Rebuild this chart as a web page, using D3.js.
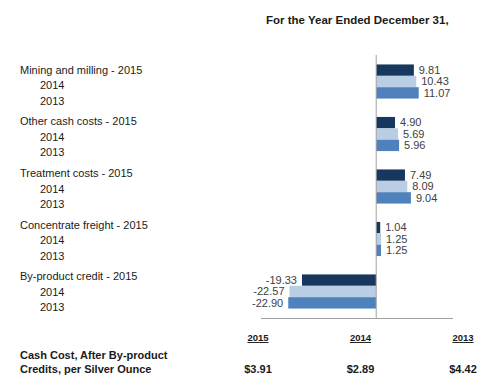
<!DOCTYPE html>
<html>
<head>
<meta charset="utf-8">
<script src="https://cdn.jsdelivr.net/npm/d3@7"></script>
<style>
  body { margin: 0; background: #fff; }
  svg text { font-family: "Liberation Sans", Arial, sans-serif; }
</style>
</head>
<body>
<svg id="chart" width="502" height="388"></svg>
<script>
  const categories = ["Mining and milling", "Other cash costs", "Treatment costs", "Concentrate freight", "By-product credit"];
  const years = ["2015", "2014", "2013"];
  const values2015 = [9.81, 4.90, 7.49, 1.04, -19.33];
  const values2014 = [10.43, 5.69, 8.09, 1.25, -22.57];
  const values2013 = [11.07, 5.96, 9.04, 1.25, -22.90];
  const tableYears = ["2015", "2014", "2013"];
  const cashCost = ["$3.91", "$2.89", "$4.42"];

  const colors = { "2015": "#17375e", "2014": "#b9cde5", "2013": "#4f81bd" };
  const seriesByYear = { "2015": values2015, "2014": values2014, "2013": values2013 };

  const svg = d3.select("#chart");

  const x = d3.scaleLinear().domain([-30, 20]).range([261, 453]);
  const y = d3.scaleBand().domain(categories).range([55, 318]).paddingInner(0.35).paddingOuter(0.18);
  const ySub = d3.scaleBand().domain(years).range([0, y.bandwidth()]);
  const labelY = d3.scalePoint().domain(categories).range([70, 276.5]);

  // title
  svg.append("text")
    .attr("x", 266).attr("y", 24)
    .attr("font-size", "11.5px").attr("font-weight", "bold").attr("fill", "#1a1a1a")
    .text("For the Year Ended December 31,");

  // bars
  const groups = svg.selectAll("g.cat")
    .data(categories)
    .join("g")
    .attr("class", "cat")
    .attr("transform", d => `translate(0,${y(d)})`);

  groups.selectAll("rect")
    .data((c, i) => years.map(yr => ({ yr, v: seriesByYear[yr][i] })))
    .join("rect")
    .attr("x", d => x(Math.min(0, d.v)))
    .attr("width", d => Math.abs(x(d.v) - x(0)))
    .attr("y", d => ySub(d.yr))
    .attr("height", ySub.bandwidth())
    .attr("fill", d => colors[d.yr]);

  groups.selectAll("text.val")
    .data((c, i) => years.map(yr => ({ yr, v: seriesByYear[yr][i] })))
    .join("text")
    .attr("class", "val")
    .attr("x", d => d.v >= 0 ? x(d.v) + 5 : x(d.v) - 5)
    .attr("y", d => ySub(d.yr) + ySub.bandwidth() / 2)
    .attr("dy", "0.35em")
    .attr("text-anchor", d => d.v >= 0 ? "start" : "end")
    .attr("font-size", "11px").attr("fill", "#404040")
    .text(d => d.v.toFixed(2));

  // axis lines
  svg.append("line")
    .attr("x1", x(0)).attr("x2", x(0)).attr("y1", 55).attr("y2", 318)
    .attr("stroke", "#a0a0a0").attr("stroke-width", 1);
  svg.append("line")
    .attr("x1", x(-30)).attr("x2", x(20)).attr("y1", 318.5).attr("y2", 318.5)
    .attr("stroke", "#a0a0a0").attr("stroke-width", 1);

  // category labels
  categories.forEach(c => {
    svg.append("text")
      .attr("x", 20).attr("y", labelY(c)).attr("dy", "0.35em")
      .attr("font-size", "11px").attr("fill", "#1a1a1a")
      .text(`${c} - ${years[0]}`);
    years.slice(1).forEach((yr, j) => {
      svg.append("text")
        .attr("x", 40).attr("y", labelY(c) + 15.4 * (j + 1)).attr("dy", "0.35em")
        .attr("font-size", "11px").attr("fill", "#1a1a1a")
        .text(yr);
    });
  });

  // bottom table
  const colX = d3.scalePoint().domain(tableYears).range([258, 463]);
  svg.selectAll("text.hdr")
    .data(tableYears)
    .join("text")
    .attr("class", "hdr")
    .attr("x", d => colX(d)).attr("y", 341)
    .attr("text-anchor", "middle")
    .attr("font-size", "9.5px").attr("font-weight", "bold").attr("fill", "#1a1a1a")
    .attr("text-decoration", "underline")
    .text(d => d);

  svg.selectAll("text.cc")
    .data(cashCost)
    .join("text")
    .attr("class", "cc")
    .attr("x", (d, i) => colX(tableYears[i])).attr("y", 373)
    .attr("text-anchor", "middle")
    .attr("font-size", "11px").attr("font-weight", "bold").attr("fill", "#1a1a1a")
    .text(d => d);

  svg.append("text")
    .attr("x", 20).attr("y", 359)
    .attr("font-size", "11px").attr("font-weight", "bold").attr("fill", "#1a1a1a")
    .text("Cash Cost, After By-product");
  svg.append("text")
    .attr("x", 20).attr("y", 373)
    .attr("font-size", "11px").attr("font-weight", "bold").attr("fill", "#1a1a1a")
    .text("Credits, per Silver Ounce");
</script>
</body>
</html>
